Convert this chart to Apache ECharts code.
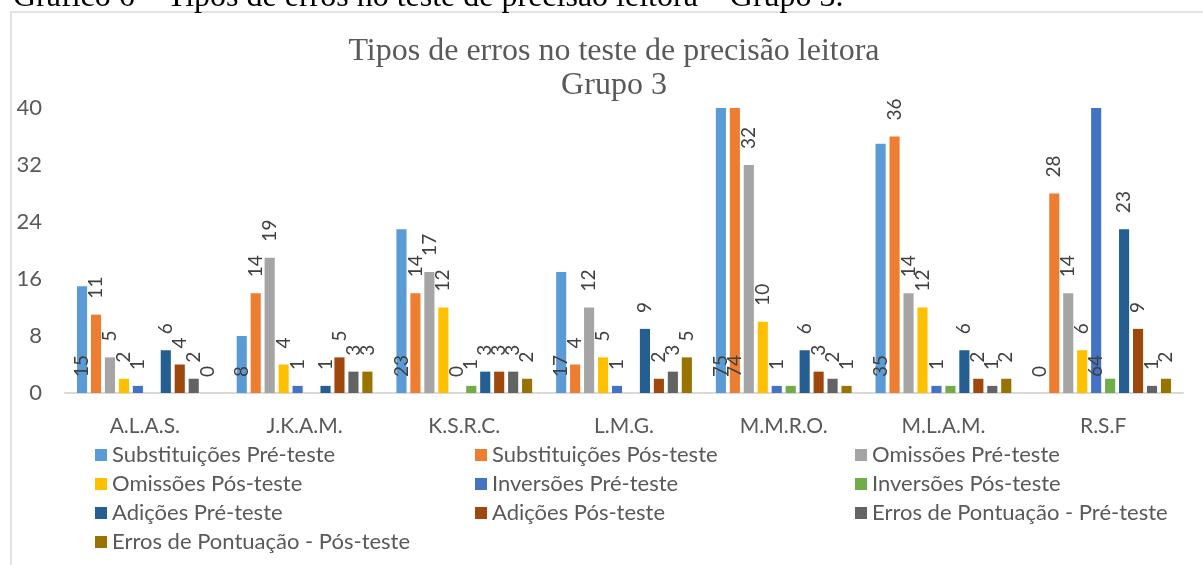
<!DOCTYPE html>
<html>
<head>
<meta charset="utf-8">
<script src="https://cdn.jsdelivr.net/npm/echarts@6/dist/echarts.min.js"></script>
<style>
  html, body { margin: 0; padding: 0; background: #fff; }
  #chart { width: 1203px; height: 565px; }
</style>
</head>
<body>
<div id="chart"></div>
<script>
  // alunos do grupo 3
  let alunos = ['A.L.A.S.', 'J.K.A.M.', 'K.S.R.C.', 'L.M.G.', 'M.M.R.O.', 'M.L.A.M.', 'R.S.F'];

  let nomes = [
    'Substituições Pré-teste', 'Substituições Pós-teste',
    'Omissões Pré-teste', 'Omissões Pós-teste',
    'Inversões Pré-teste', 'Inversões Pós-teste',
    'Adições Pré-teste', 'Adições Pós-teste',
    'Erros de Pontuação - Pré-teste', 'Erros de Pontuação - Pós-teste'
  ];

  let substPre  = [15, 8, 23, 17, 75, 35, 0];
  let substPos  = [11, 14, 14, 4, 74, 36, 28];
  let omisPre   = [5, 19, 17, 12, 32, 14, 14];
  let omisPos   = [2, 4, 12, 5, 10, 12, 6];
  let invPre    = [1, 1, 0, 1, 1, 1, 64];
  let invPos    = [null, null, 1, null, 1, 1, 2];
  let adicPre   = [6, 1, 3, 9, 6, 6, 23];
  let adicPos   = [4, 5, 3, 2, 3, 2, 9];
  let pontPre   = [2, 3, 3, 3, 2, 1, 1];
  let pontPos   = [0, 3, 2, 5, 1, 2, 2];

  // rótulos de Inversões Pós-teste que aparecem no gráfico original
  let invPosRotulo = [false, false, true, false, false, false, false];

  let yTicks = [0, 8, 16, 24, 32, 40];

  let valores = [substPre, substPos, omisPre, omisPos, invPre, invPos, adicPre, adicPos, pontPre, pontPos];
  let cores = ['#5B9BD5', '#ED7D31', '#A5A5A5', '#FFC000', '#4472C4', '#70AD47', '#255E91', '#9E480E', '#636363', '#997300'];
  let yMax = yTicks[yTicks.length - 1];

  let chart = echarts.init(document.getElementById('chart'));

  let series = valores.map((vals, i) => {
    return {
      name: nomes[i],
      type: 'bar',
      barGap: '38%',
      barCategoryGap: '15%',
      itemStyle: { color: cores[i] },
      label: {
        show: true,
        rotate: 90,
        align: 'left',
        verticalAlign: 'middle',
        position: i === 0 ? 'insideBottom' : 'top',
        distance: 16,
        color: '#404040',
        fontFamily: 'Lato',
        fontSize: 19
      },
      data: vals.map((v, j) => {
        let item = { value: v };
        if (v !== null && v > yMax) {
          item.label = { position: 'insideBottom' };
        }
        if (i === 5 && !invPosRotulo[j]) {
          item.label = { show: false };
        }
        return item;
      })
    };
  });

  let legendBase = {
    orient: 'vertical',
    top: 439,
    itemWidth: 12,
    itemHeight: 12,
    itemGap: 7,
    icon: 'rect',
    textStyle: { fontFamily: 'Lato', fontSize: 22, color: '#595959' }
  };

  let titleFont = '32px "Liberation Serif"';

  let option = {
    animation: false,
    backgroundColor: '#fff',
    color: cores,
    graphic: [
      {
        type: 'rect',
        shape: { x: 11, y: 12, width: 1250, height: 600 },
        style: { fill: 'none', stroke: '#d9d9d9', lineWidth: 1.5 }
      },
      {
        type: 'text',
        x: 13, y: -2,
        style: {
          text: 'Gráfico 6 – Tipos de erros no teste de precisão leitora – Grupo 3.',
          font: titleFont,
          fill: '#000',
          align: 'left',
          verticalAlign: 'middle'
        }
      },
      {
        type: 'text',
        x: 614, y: 52,
        style: {
          text: 'Tipos de erros no teste de precisão leitora',
          font: titleFont,
          fill: '#595959',
          align: 'center',
          verticalAlign: 'middle'
        }
      },
      {
        type: 'text',
        x: 614, y: 86,
        style: {
          text: 'Grupo 3',
          font: titleFont,
          fill: '#595959',
          align: 'center',
          verticalAlign: 'middle'
        }
      }
    ],
    legend: [
      Object.assign({}, legendBase, { left: 90, data: [nomes[0], nomes[3], nomes[6], nomes[9]] }),
      Object.assign({}, legendBase, { left: 470, data: [nomes[1], nomes[4], nomes[7]] }),
      Object.assign({}, legendBase, { left: 850, data: [nomes[2], nomes[5], nomes[8]] })
    ],
    grid: {
      left: 65,
      right: 20,
      top: 108,
      bottom: 172
    },
    xAxis: {
      type: 'category',
      data: alunos,
      axisTick: { show: false },
      axisLine: { lineStyle: { color: '#d9d9d9', width: 2 } },
      axisLabel: { fontFamily: 'Lato', fontSize: 21, color: '#595959', margin: 23 }
    },
    yAxis: {
      type: 'value',
      min: yTicks[0],
      max: yMax,
      interval: yTicks[1] - yTicks[0],
      axisLine: { show: false },
      axisTick: { show: false },
      splitLine: { show: false },
      axisLabel: { fontFamily: 'Lato', fontSize: 22, color: '#595959', margin: 23 }
    },
    series: series
  };

  chart.setOption(option);
</script>
</body>
</html>
